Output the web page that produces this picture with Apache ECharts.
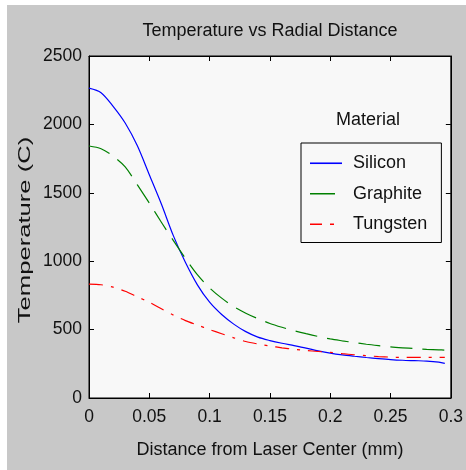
<!DOCTYPE html>
<html><head><meta charset="utf-8">
<script src="https://cdn.jsdelivr.net/npm/echarts@6/dist/echarts.min.js"></script>
<style>html,body{margin:0;padding:0;background:#fff}#c{width:466px;height:470px}</style>
</head><body><div id="c"></div>
<script>
var distance = [0,0.01,0.02,0.03,0.04,0.05,0.06,0.07,0.08,0.09,0.10,0.11,0.12,0.13,0.14,0.15,0.16,0.17,0.18,0.19,0.20,0.21,0.22,0.23,0.24,0.25,0.26,0.27,0.28,0.29,0.295];
var silicon = [2265,2232,2132,2010,1845,1632,1418,1185,990,825,700,610,540,485,445,420,400,383,365,345,328,315,305,296,288,281,276,273,270,262,253];
var graphite = [1842,1822,1768,1690,1560,1425,1285,1150,1020,900,805,730,668,620,580,545,517,492,470,450,432,418,405,393,383,374,367,361,356,352,350];
var tungsten = [833,828,810,780,740,700,652,606,566,533,500,470,440,413,395,380,367,356,347,340,333,324,316,309,303,299,297,297,297,297,297];
var seriesNames = ['Silicon','Graphite','Tungsten'];
var xTicks = [0,0.05,0.1,0.15,0.2,0.25,0.3];
var yTicks = [0,500,1000,1500,2000,2500];

function pairs(v){return distance.map(function(d,i){return [d,v[i]];});}
var FONT = '"Liberation Sans", Arial, sans-serif';
var chart = echarts.init(document.getElementById('c'));
var axisCommon = {
  axisLine:{show:true,onZero:false,lineStyle:{color:'#000',width:1}},
  axisTick:{show:true,inside:true,length:5,lineStyle:{color:'#000'}},
  splitLine:{show:false}
};
chart.setOption({
  backgroundColor:'#fff',
  animation:false,
  graphic:[
    {type:'rect',z:-10,shape:{x:7,y:5,width:459,height:465},style:{fill:'#c8c8c8'}},
    {type:'text',left:336,top:111,z:10,style:{text:'Material',font:'18px '+FONT,fill:'#111'}},
    {type:'text',x:26,y:230,rotation:Math.PI/2,scaleX:1.6,scaleY:1,z:10,
      style:{text:'Temperature (C)',font:'16px '+FONT,fill:'#111',align:'center',verticalAlign:'middle'}}
  ],
  title:{text:'Temperature vs Radial Distance',left:265,textAlign:'center',top:17,
    textStyle:{fontFamily:FONT,fontSize:18,fontWeight:'normal',color:'#111'}},
  grid:{left:89,top:56,right:13,bottom:72,show:true,backgroundColor:'#f8f8f8',borderColor:'#000',borderWidth:1},
  legend:{show:true,type:'plain',orient:'vertical',left:301,top:143,backgroundColor:'#f8f8f8',borderColor:'#000',borderWidth:1,
    padding:[10,14,8,9],itemWidth:32,itemHeight:2,itemGap:10,
    textStyle:{fontFamily:FONT,fontSize:18,color:'#111',padding:[0,0,0,6],lineHeight:20.5},
    data:[
      {name:seriesNames[0],icon:'path://M0,0H32V1.6H0Z'},
      {name:seriesNames[1],icon:'path://M0,0H25V1.6H0Z M32,0L32,1.6'},
      {name:seriesNames[2],icon:'path://M0,0H12V1.6H0Z M20,0H24V1.6H20Z M32,0L32,1.6'}
    ]},
  xAxis:[
    Object.assign({type:'value',min:0,max:0.3,interval:0.05,position:'bottom',
      name:'Distance from Laser Center (mm)',nameLocation:'middle',nameGap:43,
      nameTextStyle:{fontFamily:FONT,fontSize:18,color:'#111'},
      axisLabel:{fontFamily:FONT,fontSize:17.5,color:'#111',margin:10,
        formatter:function(v){var t=xTicks.filter(function(x){return Math.abs(x-v)<1e-9;});return t.length?String(t[0]):'';}}},axisCommon),
    Object.assign({type:'value',min:0,max:0.3,interval:0.05,position:'top',axisLabel:{show:false}},axisCommon)
  ],
  yAxis:[
    Object.assign({type:'value',min:0,max:2500,interval:500,position:'left',
      axisLabel:{fontFamily:FONT,fontSize:17.5,color:'#111',margin:7,
        formatter:function(v){return yTicks.indexOf(v)>=0?String(v):'';}}},axisCommon),
    Object.assign({type:'value',min:0,max:2500,interval:500,position:'right',axisLabel:{show:false}},axisCommon)
  ],
  series:[
    {name:seriesNames[0],type:'line',data:pairs(silicon),symbol:'none',smooth:0.3,color:'#0000ff',lineStyle:{width:1.2,color:'#0000ff'}},
    {name:seriesNames[1],type:'line',data:pairs(graphite),symbol:'none',smooth:0.3,color:'#008000',lineStyle:{width:1.2,color:'#008000',type:[22,10]}},
    {name:seriesNames[2],type:'line',data:pairs(tungsten),symbol:'none',smooth:0.3,color:'#ff0000',lineStyle:{width:1.2,color:'#ff0000',type:[14,8,3,8]}}
  ]
});
</script></body></html>
